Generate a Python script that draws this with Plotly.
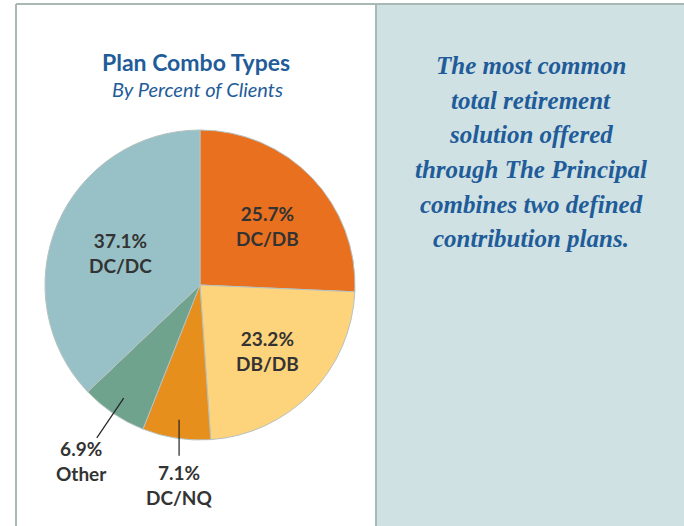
import math
import plotly.graph_objects as go

# Plan combination shares, in clockwise order from 12 o'clock
categories = ["DC/DB", "DB/DB", "DC/NQ", "Other", "DC/DC"]
percents = [25.7, 23.2, 7.1, 6.9, 37.1]
slice_colors = ["#E8701F", "#FDD47B", "#E78F1C", "#6FA38E", "#97C1C6"]
outside_labels = ["DC/NQ", "Other"]

W, H = 684, 526
# pie placement in pixels
CX, CY, R = 200, 285, 155

BLUE = "#1F5C99"
DARK = "#333333"
BORDER = "#A8B9B5"


def px(x):
    return x / W


def py(y):
    return 1 - y / H


def note(x, y, text, font):
    return dict(x=px(x), y=py(y), xref="paper", yref="paper", text=text,
                showarrow=False, xanchor="center", yanchor="middle", font=font)


fig = go.Figure()

fig.add_trace(go.Pie(
    values=percents,
    labels=categories,
    sort=False,
    direction="clockwise",
    rotation=0,
    marker=dict(colors=slice_colors, line=dict(color="#B7C2C0", width=1)),
    textinfo="none",
    hoverinfo="label+value",
    showlegend=False,
    domain=dict(x=[px(CX - R), px(CX + R)], y=[py(CY + R), py(CY - R)]),
))

total = sum(percents)
shapes = []
annotations = []


def polar(frac_angle, rfrac):
    ang = 2 * math.pi * frac_angle
    return CX + R * rfrac * math.sin(ang), CY - R * rfrac * math.cos(ang)


label_font = dict(family="Lato", size=19, color=DARK)
cum = 0.0
for cat, val in zip(categories, percents):
    mid = (cum + val / 2) / total
    cum += val
    text = f"<b>{val:.1f}%<br>{cat}</b>"
    if cat not in outside_labels:
        x, y = polar(mid, 0.58)
        annotations.append(note(x + 3, y + 3, text, label_font))
    else:
        x0, y0 = polar(mid, 0.88)
        if cat == "DC/NQ":
            x1, y1 = x0, y0 + 36
            lx, ly = x1, y1 + 29
        else:
            x1, y1 = polar(mid, 1.19)
            lx, ly = polar(mid, 1.37)
        shapes.append(dict(type="line", xref="paper", yref="paper",
                           x0=px(x0), y0=py(y0), x1=px(x1), y1=py(y1),
                           line=dict(color="#222222", width=1.2)))
        annotations.append(note(lx, ly, text, label_font))

# right-hand panel and frame lines
shapes += [
    dict(type="rect", xref="paper", yref="paper", layer="below",
         x0=px(376), x1=1, y0=0, y1=py(4),
         fillcolor="#CFE1E3", line=dict(width=0)),
    dict(type="line", xref="paper", yref="paper", x0=px(16), x1=1, y0=py(4), y1=py(4),
         line=dict(color=BORDER, width=2)),
    dict(type="line", xref="paper", yref="paper", x0=px(16), x1=px(16), y0=0, y1=py(4),
         line=dict(color=BORDER, width=2)),
    dict(type="line", xref="paper", yref="paper", x0=px(376), x1=px(376), y0=0, y1=py(4),
         line=dict(color=BORDER, width=2)),
]

# chart title
annotations += [
    note(196, 62, "<b>Plan Combo Types</b>", dict(family="Lato", size=23, color=BLUE)),
    note(197, 89, "<i>By Percent of Clients</i>", dict(family="Lato", size=20, color=BLUE)),
]

quote_lines = [
    "The most common",
    "total retirement",
    "solution offered",
    "through The Principal",
    "combines two defined",
    "contribution plans.",
]
for i, line in enumerate(quote_lines):
    annotations.append(note(531, 66 + i * 34.5, f"<b><i>{line}</i></b>",
                            dict(family="Liberation Serif", size=25, color=BLUE)))

fig.update_layout(
    width=W, height=H,
    margin=dict(l=0, r=0, t=0, b=0),
    paper_bgcolor="white",
    plot_bgcolor="white",
    shapes=shapes,
    annotations=annotations,
)

fig.write_html("out.html")
